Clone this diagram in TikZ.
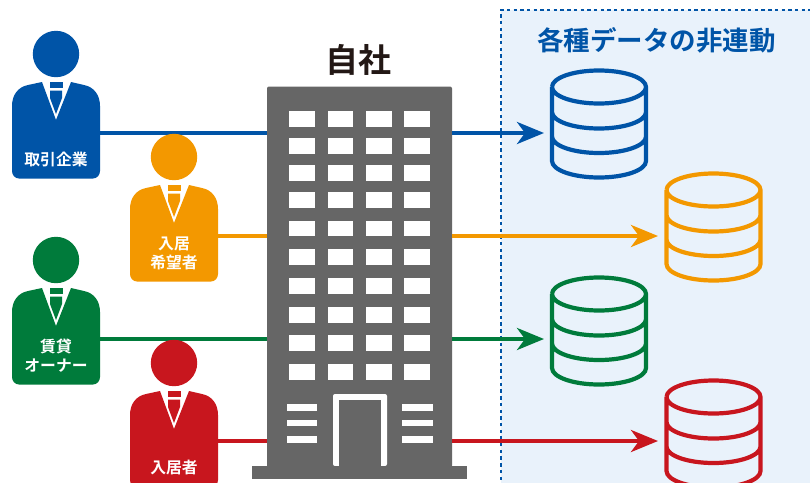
\documentclass[tikz,border=0pt]{standalone}
\usepackage{fontspec}
\newfontfamily\jp{Noto Sans CJK JP Bold}
\usetikzlibrary{arrows.meta}
\definecolor{cblue}{HTML}{0054A7}
\definecolor{corange}{HTML}{F39800}
\definecolor{cgreen}{HTML}{007B3B}
\definecolor{cred}{HTML}{C8161E}
\definecolor{cgray}{HTML}{666666}
\definecolor{cpanel}{HTML}{E9F2FB}
\tikzset{
  plabel/.style={text=white,font=\jp\fontsize{15.8}{19}\selectfont,align=center,inner sep=0pt},
  win/.style={fill=white,draw=none},
  personbox/.style={inner sep=0pt,minimum width=88pt,minimum height=96pt},
  dbbox/.style={inner sep=0pt,minimum width=98pt,minimum height=110pt},
  link/.style={line width=4pt},
  flow/.style={line width=4pt,-{Stealth[length=27pt,width=22pt,inset=8pt]}},
}
% #1 name, #2 x offset, #3 y offset, #4 colour, #5 label, #6 label y
\newcommand{\personfig}[6]{%
  \begin{scope}[shift={(#2,#3)}]
    \fill[#4] (56,54) circle (23.2);
    \fill[#4] (42,82) -- (28,85) .. controls (18,87) and (12,95) .. (12,106) -- (12,171)
      .. controls (12,175) and (15,178.5) .. (19,178.5) -- (93,178.5)
      .. controls (97,178.5) and (100,175) .. (100,171) -- (100,106)
      .. controls (100,95) and (94,87) .. (84,85) -- (71,82) -- (56,120) -- cycle;
    \fill[#4] (49.5,82) -- (62.5,82) -- (62.5,88) -- (49.5,88) -- cycle;
    \fill[#4] (50,90.5) -- (62,90.5) -- (62,98) -- (56,114) -- (50,98) -- cycle;
    \node[personbox] (#1) at (56,130) {};
    \node[plabel] (#1t) at (56,#6) {#5};
  \end{scope}}
% #1 name, #2 x offset, #3 y offset, #4 colour
\newcommand{\dbfig}[4]{%
  \begin{scope}[shift={(#2,#3)}]
    \node[dbbox] (#1) at (599,124) {};
    \draw[#4,line width=4.2pt,line join=round]
      (552,87) arc[start angle=180,end angle=-180,x radius=47,y radius=16.5]
      (552,87) -- (552,161) arc[start angle=180,end angle=0,x radius=47,y radius=16.5] -- (646,87)
      (552,112) arc[start angle=180,end angle=0,x radius=47,y radius=16.5]
      (552,136.5) arc[start angle=180,end angle=0,x radius=47,y radius=16.5];
  \end{scope}}
\begin{document}
\begin{tikzpicture}[x=1pt,y=-1pt]
\clip (0,0) rectangle (810,482);
\fill[white] (0,0) rectangle (810,482);
% panel
\fill[cpanel] (501,10) rectangle (830,500);
\draw[cblue,line width=2pt,dash pattern=on 3.4pt off 3.3pt] (501,500) -- (501,10) -- (830,10);
\node[inner sep=0pt,text=cblue,font=\jp\fontsize{26.5}{30}\selectfont] (paneltitle) at (656.5,40) {各種データの非連動};
% building
\node[inner sep=0pt] (title) at (358.5,60) {\jp\fontsize{33}{36}\selectfont\textcolor[HTML]{231815}{自社}};
\node[fill=cgray,inner sep=0pt,minimum width=185pt,minimum height=381pt,rounded corners=2pt] (tower) at (359.5,277) {};
\fill[cgray] (252,466) rectangle (467,479);
\foreach \yy/\yb in {111/127,138/154,165/181,192/208,221/236,249/265,278/294,307/323,335/351,364/380}
  \foreach \xa/\xb in {289/315,328/353,366/392,404/430}
    \fill[win] (\xa,\yy) rectangle (\xb,\yb);
\fill[white,rounded corners=2pt] (333,466) -- (333,394) -- (387,394) -- (387,466) -- cycle;
\fill[cgray] (339,400) rectangle (381,467);
\fill[cgray] (333,466) rectangle (387,479);
\foreach \yy/\yb in {404/411,420/426,436/443}{
  \fill[win] (287,\yy) rectangle (317,\yb);
  \fill[win] (402,\yy) rectangle (433,\yb);
}
% people
\personfig{pa}{0}{0}{cblue}{取引企業}{159.5}
\personfig{pc}{0}{206}{cgreen}{賃貸\\オーナー}{150}
% databases
\dbfig{da}{0}{0}{cblue}
\dbfig{db}{114.5}{103}{corange}
\dbfig{dc}{0}{207}{cgreen}
\dbfig{dd}{114.5}{310}{cred}
% connectors
\coordinate (a1) at (100,133); \coordinate (a2) at (544,133);
\coordinate (b1) at (218,236); \coordinate (b2) at (658,236);
\coordinate (c1) at (100,339); \coordinate (c2) at (544,339);
\coordinate (d1) at (218,441); \coordinate (d2) at (658,441);
\draw[link,cblue] (a1) -- (a1 -| tower.west);
\draw[flow,cblue] (a1 -| tower.east) -- (a2);
\draw[link,corange] (b1) -- (b1 -| tower.west);
\draw[flow,corange] (b1 -| tower.east) -- (b2);
\draw[link,cgreen] (c1) -- (c1 -| tower.west);
\draw[flow,cgreen] (c1 -| tower.east) -- (c2);
\draw[link,cred] (d1) -- (d1 -| tower.west);
\draw[flow,cred] (d1 -| tower.east) -- (d2);
\personfig{pb}{118}{103}{corange}{入居\\希望者}{150}
\personfig{pd}{118}{309}{cred}{入居者}{158.5}
\end{tikzpicture}
\end{document}
